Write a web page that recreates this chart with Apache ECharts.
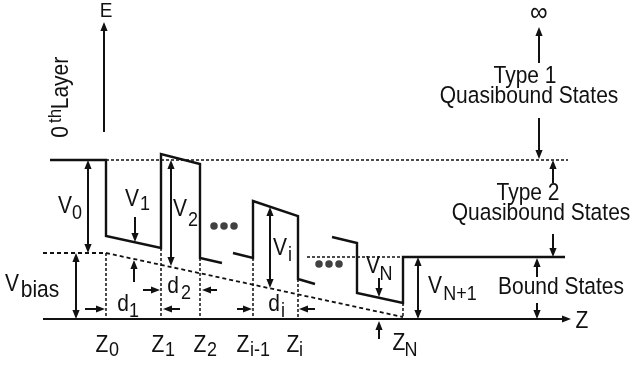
<!DOCTYPE html>
<html><head><meta charset="utf-8">
<script src="https://cdn.jsdelivr.net/npm/echarts@6/dist/echarts.min.js"></script>
<style>html,body{margin:0;padding:0;background:#fff}#c{width:640px;height:365px}</style>
</head><body><div id="c"></div>
<script>
// Coordinates: z position (horizontal) and energy E (vertical, baseline E = 0)
const profileSegments = [
  [[50,159],[106,159],[106,83],[161,71],[161,165],[200,155],[200,61],[222,56]],
  [[233,66],[253,61],[253,118],[298,103],[298,40],[315,35]],
  [[332,82],[357,76],[357,26],[403,16],[403,62],[565,62]]
];
const fineDotted = [
  [[106,159],[568,159]],
  [[307,62],[403,62]]
];
const biasLine = [[43,66],[106,66],[403,2]];
const boundaries = [[106,66],[161,71],[200,61],[253,61],[298,40],[403,16]];
// arrows: [z1, E1, z2, E2, doubleHeaded]
const arrows = [
  [43,0,571,0,0],
  [104,187,104,297,0],
  [539,256,539,292,0],
  [539,201,539,160,0],
  [553,136,553,159,0],
  [553,85,553,62,0],
  [537,42,537,61,0],
  [537,16,537,0,0],
  [88,159,88,66,1],
  [76,66,76,0,1],
  [135,102,135,77,0],
  [134,37,134,59,0],
  [171,159,171,53,1],
  [270,112,270,31,1],
  [379,41,379,22,0],
  [418,62,418,0,1],
  [379,-20,379,-2,0],
  [85,10,105,10,0],[180,10,163,10,0],
  [143,29,160,29,0],[217,29,202,29,0],
  [237,10,252,10,0],[315,10,299,10,0]
];
const ellipsisDots = [[214,93],[224,93],[234,93],[319,55],[329,55],[339,55]];
// labels: [z, E, text, kind]
const labels = [
  [106,308,'E','axis'],
  [539,306,'∞','inf'],
  [62,187,'0','rot'],
  [56,203,'th','rotsub'],
  [62,236,'Layer','rot'],
  [525,242,'Type 1','main'],
  [529,222,'Quasibound States','main'],
  [528,125,'Type 2','main'],
  [541,105,'Quasibound States','main'],
  [561,31,'Bound States','main'],
  [582,-3,'Z','main'],
  [65,112,'V','main'],[77,105,'0','sub'],
  [132,119,'V','main'],[145,114,'1','sub'],
  [180,109,'V','main'],[193,98,'2','sub'],
  [280,70,'V','main'],[290,63,'i','sub'],
  [373,52,'V','main'],[386,44,'N','sub'],
  [435,32,'V','main'],[460,24,'N+1','sub'],
  [12,34,'V','main'],[40,28,'bias','subwide'],
  [123,14,'d','main'],[134,7,'1','sub'],
  [173,32,'d','main'],[186,25,'2','sub'],
  [274,14,'d','main'],[283,7,'i','sub'],
  [102,-27,'Z','main'],[114,-32,'0','sub'],
  [158,-27,'Z','main'],[170,-32,'1','sub'],
  [200,-27,'Z','main'],[212,-32,'2','sub'],
  [243,-27,'Z','main'],[260,-32,'i-1','sub'],
  [293,-27,'Z','main'],[301,-32,'i','sub'],
  [399,-25,'Z','main'],[411,-32,'N','sub']
];

const FONT = '"Liberation Sans", Arial, sans-serif';
const INK = '#111';
const kinds = {
  main:{size:21, rot:0}, sub:{size:18, rot:0}, subwide:{size:21, rot:0},
  axis:{size:19, rot:0}, inf:{size:25, rot:0},
  rot:{size:21, rot:Math.PI/2}, rotsub:{size:17, rot:Math.PI/2}
};

function polyRender(list, style){
  return function(params, api){
    const pts = list[params.dataIndex].map(p => api.coord(p));
    return {type:'polyline', shape:{points:pts}, style:Object.assign({fill:null}, style)};
  };
}
function arrowRender(params, api){
  const a = arrows[params.dataIndex];
  const p1 = api.coord([a[0],a[1]]), p2 = api.coord([a[2],a[3]]);
  const dx = p2[0]-p1[0], dy = p2[1]-p1[1], len = Math.hypot(dx,dy);
  const ux = dx/len, uy = dy/len, L = 9, W = 3.6;
  const head = (t, sx, sy) => ({type:'polygon', shape:{points:[
    [t[0],t[1]],
    [t[0]-sx*L-sy*W, t[1]-sy*L+sx*W],
    [t[0]-sx*L+sy*W, t[1]-sy*L-sx*W]]}, style:{fill:INK}});
  const s = a[4] ? [p1[0]+ux*L*0.8, p1[1]+uy*L*0.8] : p1;
  const e = [p2[0]-ux*L*0.8, p2[1]-uy*L*0.8];
  const children = [{type:'line', shape:{x1:s[0],y1:s[1],x2:e[0],y2:e[1]}, style:{stroke:INK, lineWidth:2}}, head(p2,ux,uy)];
  if (a[4]) children.push(head(p1,-ux,-uy));
  return {type:'group', children};
}
function boundaryRender(params, api){
  const b = boundaries[params.dataIndex];
  const p1 = api.coord(b), p2 = api.coord([b[0],0]);
  return {type:'line', shape:{x1:p1[0],y1:p1[1],x2:p2[0],y2:p2[1]}, style:{stroke:INK, lineWidth:1.5, lineDash:[3,2]}};
}
function labelRender(params, api){
  const l = labels[params.dataIndex];
  const p = api.coord([l[0],l[1]]);
  const k = kinds[l[3]];
  return {type:'text', x:p[0], y:p[1], rotation:k.rot, scaleY:1.1, style:{text:l[2], fontSize:k.size, fontFamily:FONT, fill:INK, align:'center', verticalAlign:'middle'}};
}

const chart = echarts.init(document.getElementById('c'), null, {renderer:'canvas'});
chart.setOption({
  animation:false,
  backgroundColor:'#fff',
  grid:{left:0,right:0,top:0,bottom:0,containLabel:false},
  xAxis:{type:'value', min:0, max:640, show:false},
  yAxis:{type:'value', min:-46, max:319, show:false},
  series:[
    {type:'custom', renderItem:polyRender(fineDotted,{stroke:INK,lineWidth:1.5,lineDash:[3,2]}), data:fineDotted.map(s=>s[0]), silent:true},
    {type:'custom', renderItem:polyRender([biasLine],{stroke:INK,lineWidth:1.8,lineDash:[4,3]}), data:[biasLine[0]], silent:true},
    {type:'custom', renderItem:boundaryRender, data:boundaries, silent:true},
    {type:'custom', renderItem:polyRender(profileSegments,{stroke:INK,lineWidth:2.4,lineJoin:'miter'}), data:profileSegments.map(s=>s[0]), silent:true},
    {type:'custom', renderItem:arrowRender, data:arrows.map(a=>[a[0],a[1]]), silent:true},
    {type:'scatter', data:ellipsisDots, symbol:'circle', symbolSize:7.5, itemStyle:{color:INK}, silent:true},
    {type:'custom', renderItem:labelRender, data:labels.map(l=>[l[0],l[1]]), silent:true}
  ]
});
</script>
</body></html>
